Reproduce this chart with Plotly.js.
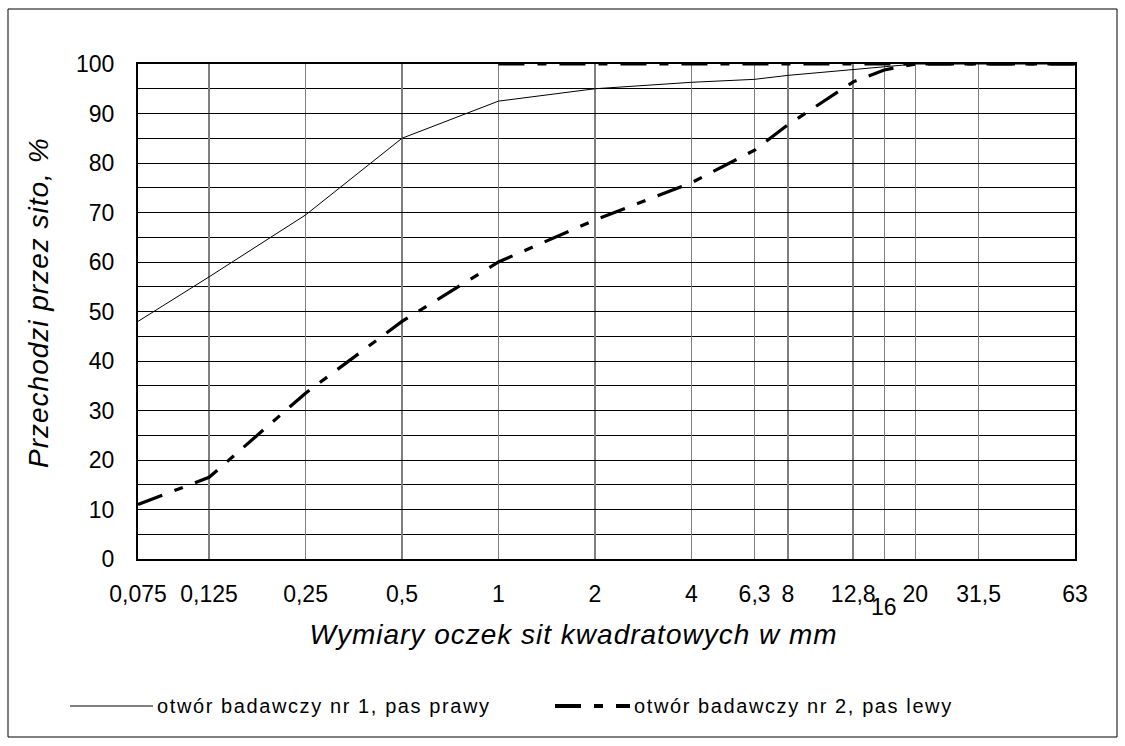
<!DOCTYPE html>
<html>
<head>
<meta charset="utf-8">
<script src="https://cdn.plot.ly/plotly-3.0.1.min.js"></script>
<style>
html,body{margin:0;padding:0;background:#fff;}
#chart{width:1125px;height:746px;}
</style>
</head>
<body>
<div id="chart"></div>
<script>
// sieve sizes (mm)
const sieveSizes = [0.075, 0.125, 0.25, 0.5, 1, 2, 4, 6.3, 8, 12.8, 16, 20, 31.5, 63];
const tickLabels = ["0,075", "0,125", "0,25", "0,5", "1", "2", "4", "6,3", "8", "12,8", "", "20", "31,5", "63"];
const offsetTickValue = 16;
const offsetTickLabel = "16";
// series values (% passing)
const series1Name = "otwór badawczy nr 1, pas prawy";
const series1 = [48, 57, 69.5, 85, 92.5, 95, 96.3, 96.9, 97.7, 98.9, 99.5, 100, 100, 100];
const series2Name = "otwór badawczy nr 2, pas lewy";
const series2 = [11, 16.5, 33.5, 48, 60, 68.5, 76, 82.6, 87.7, 96.4, 98.8, 100, 100, 100];
// upper dashed limit line
const upperSizes = [1, 2, 4, 6.3, 8, 12.8, 16, 20, 31.5, 63];
const upperValues = [100, 100, 100, 100, 100, 100, 100, 100, 100, 100];
const yTitle = "Przechodzi przez sito, %";
const xTitle = "Wymiary oczek sit kwadratowych w mm";

const FONT = "Liberation Sans, Arial, sans-serif";
const DASH = "26px,13px,9px,13px";

const traces = [
  {x: sieveSizes, y: series1, type: "scatter", mode: "lines", name: series1Name,
   line: {color: "#000", width: 1}, showlegend: false},
  {x: sieveSizes, y: series2, type: "scatter", mode: "lines", name: series2Name,
   line: {color: "#000", width: 3.2, dash: DASH}, showlegend: false},
  {x: upperSizes, y: upperValues, type: "scatter", mode: "lines", name: "",
   line: {color: "#000", width: 3, dash: DASH}, showlegend: false, hoverinfo: "skip"}
];

// paper-coordinate helpers (plot area: x 138..1075, y 64..559)
const L = 138, R = 1075, T = 64, B = 559;
const px = v => (v - L) / (R - L);
const py = v => (B - v) / (B - T);

const layout = {
  width: 1125, height: 746,
  margin: {l: L, r: 1125 - R, t: T, b: 746 - B},
  paper_bgcolor: "#fff", plot_bgcolor: "#fff",
  font: {family: FONT, color: "#000", size: 23},
  showlegend: false,
  xaxis: {
    type: "log",
    range: [Math.log10(0.075), Math.log10(63)],
    tickmode: "array", tickvals: sieveSizes, ticktext: tickLabels,
    showgrid: true, gridcolor: "#7f7f7f", gridwidth: 1.5,
    ticks: "", ticklabelstandoff: 13,
    showline: true, linecolor: "#000", linewidth: 2, mirror: true,
    zeroline: false,
    tickfont: {family: FONT, size: 23, color: "#000"}
  },
  yaxis: {
    range: [0, 100], dtick: 10, tick0: 0,
    showgrid: true, gridcolor: "#000", gridwidth: 1,
    minor: {dtick: 5, showgrid: true, gridcolor: "#000", gridwidth: 1, ticks: ""},
    ticks: "", ticklabelstandoff: 17,
    showline: true, linecolor: "#000", linewidth: 2, mirror: true,
    zeroline: false,
    tickfont: {family: FONT, size: 23, color: "#000"}
  },
  shapes: [
    {type: "rect", xref: "paper", yref: "paper",
     x0: px(8), x1: px(1117), y0: py(737), y1: py(9),
     line: {color: "#000", width: 1}, fillcolor: "rgba(0,0,0,0)", layer: "below"},
    {type: "line", xref: "paper", yref: "paper", x0: px(70), x1: px(153), y0: py(706), y1: py(706),
     line: {color: "#000", width: 1}},
    {type: "line", xref: "paper", yref: "paper", x0: px(555), x1: px(630), y0: py(706), y1: py(706),
     line: {color: "#000", width: 4, dash: DASH}}
  ],
  annotations: [
    {x: Math.log10(offsetTickValue), xref: "x", y: py(607), yref: "paper",
     text: offsetTickLabel, showarrow: false, xanchor: "center", yanchor: "middle",
     font: {family: FONT, size: 23, color: "#000"}},
    {x: px(573), xref: "paper", y: py(634), yref: "paper", name: "xtitle",
     text: xTitle, showarrow: false, xanchor: "center", yanchor: "middle",
     font: {family: FONT, size: 28, style: "italic", color: "#000"}},
    {x: px(38), xref: "paper", y: py(303), yref: "paper", name: "ytitle",
     text: yTitle, showarrow: false, textangle: -90, xanchor: "center", yanchor: "middle",
     font: {family: FONT, size: 28, style: "italic", color: "#000"}},
    {x: px(155), xref: "paper", y: py(706), yref: "paper", align: "left",
     text: series1Name, showarrow: false, xanchor: "left", yanchor: "middle",
     font: {family: FONT, size: 20, color: "#000"}},
    {x: px(632), xref: "paper", y: py(706), yref: "paper", align: "left",
     text: series2Name, showarrow: false, xanchor: "left", yanchor: "middle",
     font: {family: FONT, size: 20, color: "#000"}}
  ]
};

Plotly.newPlot("chart", traces, layout, {displayModeBar: false, staticPlot: true}).then(gd => {
  // widen letter spacing of titles and legend texts as in the reference
  const texts = gd.querySelectorAll(".annotation-text");
  texts.forEach(t => {
    const s = t.textContent;
    if (s === xTitle || s === yTitle) t.style.letterSpacing = "1px";
    else if (s === series1Name || s === series2Name) t.style.letterSpacing = "1.6px";
  });
});
</script>
</body>
</html>
